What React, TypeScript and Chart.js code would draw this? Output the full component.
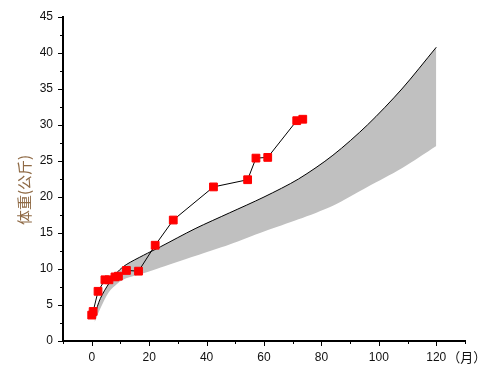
import React, { useEffect, useRef } from "react";
import { Chart, registerables } from "chart.js";

Chart.register(...registerables);

// Measured child (months, kg)
const childMonths = [0, 0.5, 2.2, 4.6, 6.0, 8.1, 9.3, 12.1, 16.3, 22.1, 28.4, 42.4, 54.3, 57.2, 61.3, 71.4, 73.5];
const childWeights = [3.6, 4.1, 6.9, 8.5, 8.5, 8.9, 9.0, 9.8, 9.7, 13.3, 16.8, 21.4, 22.4, 25.4, 25.5, 30.6, 30.8];

// Reference band
const bandMonths = [1, 3, 6, 9, 12, 18, 24, 36, 48, 60, 72, 84, 96, 108, 120];
const bandUpper = [3.6, 5.9, 8.0, 9.6, 10.6, 11.9, 13.1, 15.6, 17.8, 20.0, 22.5, 25.8, 30.0, 35.0, 40.8];
const bandLower = [2.6, 4.5, 6.8, 8.0, 8.7, 9.4, 10.2, 11.8, 13.4, 15.2, 16.9, 18.8, 21.4, 24.0, 27.1];

const xTickStep = 10;
const yTickStep = 2.5;
const yTitle = "体重(公斤)";
const xUnit = "（月）";

const tickFont = "Liberation Sans, Arial, sans-serif";

export default function App() {
  const ref = useRef<HTMLCanvasElement | null>(null);

  useEffect(() => {
    if (!ref.current) return;

    const decorPlugin = {
      id: "decor",
      afterDraw(chart: any) {
        const ctx = chart.ctx;
        const xs = chart.scales.x;
        const ys = chart.scales.y;
        const area = chart.chartArea;
        ctx.save();
        ctx.strokeStyle = "#000";
        ctx.lineWidth = 1;
        xs.ticks.forEach((t: any) => {
          const px = Math.round(xs.getPixelForValue(t.value)) + 0.5;
          const len = t.value % 20 === 0 ? 5 : 3;
          ctx.beginPath();
          ctx.moveTo(px, area.bottom);
          ctx.lineTo(px, area.bottom + len);
          ctx.stroke();
        });
        ys.ticks.forEach((t: any) => {
          const py = Math.round(ys.getPixelForValue(t.value)) + 0.5;
          const len = t.value % 5 === 0 ? 5 : 3;
          ctx.beginPath();
          ctx.moveTo(area.left, py);
          ctx.lineTo(area.left - len, py);
          ctx.stroke();
        });
        ctx.fillStyle = "#111";
        ctx.font = "13px 'Noto Sans CJK SC', sans-serif";
        ctx.textAlign = "left";
        ctx.textBaseline = "middle";
        ctx.fillText(xUnit, xs.getPixelForValue(120) + 11, area.bottom + 16);
        ctx.translate(24, (area.top + area.bottom) / 2 + 11);
        ctx.rotate(-Math.PI / 2);
        ctx.fillStyle = "#8f6a45";
        ctx.font = "15px 'Noto Sans CJK SC', sans-serif";
        ctx.textAlign = "center";
        ctx.textBaseline = "middle";
        ctx.fillText(yTitle, 0, 0);
        ctx.restore();
      },
    };

    const chart = new Chart(ref.current, {
      type: "line",
      data: {
        datasets: [
          {
            label: "child",
            data: childMonths.map((m, i) => ({ x: m, y: childWeights[i] })),
            borderColor: "#000",
            borderWidth: 1,
            pointStyle: "rect",
            pointRadius: 5.5,
            pointBackgroundColor: "#ff0000",
            pointBorderColor: "#ff0000",
            pointBorderWidth: 1,
            fill: false,
            tension: 0,
          },
          {
            label: "upper",
            data: bandMonths.map((m, i) => ({ x: m, y: bandUpper[i] })),
            borderColor: "#000",
            borderWidth: 1,
            pointRadius: 0,
            backgroundColor: "#c0c0c0",
            fill: 2,
            tension: 0.3,
          },
          {
            label: "lower",
            data: bandMonths.map((m, i) => ({ x: m, y: bandLower[i] })),
            borderColor: "rgba(0,0,0,0)",
            borderWidth: 0,
            pointRadius: 0,
            fill: false,
            tension: 0.3,
          },
        ],
      },
      options: {
        animation: false,
        responsive: true,
        maintainAspectRatio: false,
        layout: { padding: { top: 17, right: 35, left: 0, bottom: 0 } },
        plugins: {
          legend: { display: false },
          tooltip: { enabled: false },
        },
        scales: {
          x: {
            type: "linear",
            min: -10,
            max: 130,
            afterFit: (s: any) => {
              s.height = 40;
            },
            ticks: {
              stepSize: xTickStep,
              autoSkip: false,
              maxRotation: 0,
              padding: 4,
              color: "#111",
              font: { family: tickFont, size: 12 },
              callback: (v: any) => (v >= 0 && v <= 120 && v % 20 === 0 ? String(v) : ""),
            },
            grid: {
              display: true,
              drawOnChartArea: false,
              drawTicks: true,
              tickLength: 5,
              tickColor: "rgba(0,0,0,0)",
            },
            border: { display: true, color: "#000", width: 2 },
          },
          y: {
            type: "linear",
            min: 0,
            max: 45,
            afterFit: (s: any) => {
              s.width = 63;
            },
            ticks: {
              stepSize: yTickStep,
              autoSkip: false,
              padding: 5,
              color: "#111",
              font: { family: tickFont, size: 12 },
              callback: (v: any) => (v % 5 === 0 ? String(v) : ""),
            },
            grid: {
              display: true,
              drawOnChartArea: false,
              drawTicks: true,
              tickLength: 5,
              tickColor: "rgba(0,0,0,0)",
            },
            border: { display: true, color: "#000", width: 2 },
          },
        },
      },
      plugins: [decorPlugin],
    });

    return () => chart.destroy();
  }, []);

  return (
    <div style={{ position: "absolute", left: 0, top: 0, width: 500, height: 381, background: "#fff" }}>
      <canvas ref={ref} />
    </div>
  );
}
